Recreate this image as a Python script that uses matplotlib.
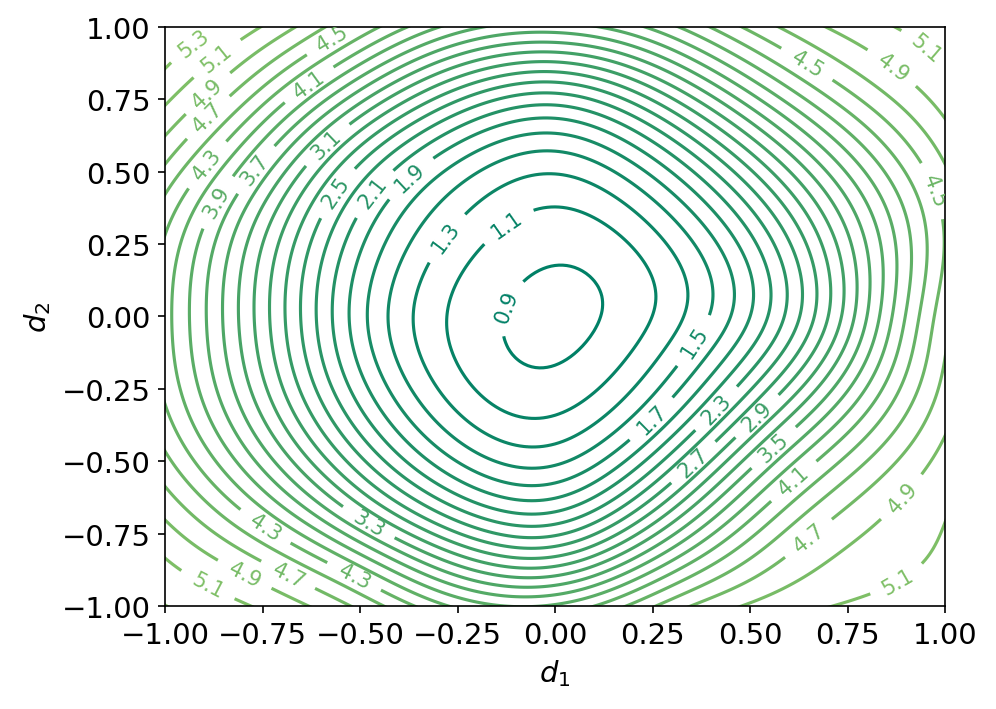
'''
Contour map of the loss around the minimum, in the (d1, d2) plane.
'''
import numpy as np
import matplotlib
matplotlib.use('Agg')
import matplotlib.pyplot as plt
from matplotlib.colors import Normalize

# contour levels shown on the chart
levels = [0.9, 1.1, 1.3, 1.5, 1.7, 1.9, 2.1, 2.3, 2.5, 2.7, 2.9, 3.1,
          3.3, 3.5, 3.7, 3.9, 4.1, 4.3, 4.5, 4.7, 4.9, 5.1, 5.3]

# estimated value at the minimum, near the origin
centre_value = 0.82

# where the contours cross d2 = 0, right and left of the minimum
row_right_levels = [0.9, 1.1, 1.3, 1.5, 1.7, 1.9, 2.1, 2.3, 2.5, 2.7,
                    2.9, 3.1, 3.3, 3.5, 3.7, 3.9, 4.1, 4.3, 4.5]
row_right_d1 = [0.146, 0.274, 0.351, 0.410, 0.462, 0.513, 0.556, 0.597, 0.636,
                0.674, 0.710, 0.744, 0.774, 0.803, 0.833, 0.864, 0.892, 0.923, 0.949]
row_left_levels = [0.9, 1.1, 1.3, 1.5, 1.7, 1.9, 2.1, 2.3, 2.5, 2.7,
                   2.9, 3.1, 3.3, 3.5, 3.7, 3.9, 4.1]
row_left_d1 = [-0.154, -0.295, -0.380, -0.449, -0.495, -0.535, -0.575, -0.613, -0.654,
               -0.692, -0.733, -0.774, -0.812, -0.852, -0.893, -0.934, -0.979]

# where the contours cross d1 = 0, above and below the minimum
col_up_levels = [0.9, 1.1, 1.3, 1.5, 1.7, 1.9, 2.1, 2.3, 2.5, 2.7, 2.9, 3.1, 3.3, 3.5]
col_up_d2 = [0.216, 0.412, 0.521, 0.596, 0.651, 0.703, 0.749, 0.786, 0.823,
             0.857, 0.889, 0.918, 0.947, 0.976]
col_down_levels = [0.9, 1.1, 1.3, 1.5, 1.7, 1.9, 2.1, 2.3, 2.5, 2.7,
                   2.9, 3.1, 3.3, 3.5, 3.7, 3.9]
col_down_d2 = [-0.210, -0.371, -0.469, -0.538, -0.596, -0.648, -0.694, -0.734,
               -0.774, -0.809, -0.843, -0.878, -0.907, -0.935, -0.964, -0.993]

# the 0.9 ring: top, bottom, left and right extremes
ring_d1 = [0.038, -0.038, -0.156, 0.148]
ring_d2 = [0.212, -0.225, -0.03, 0.05]

# where contours meet the frame
edge_levels = [5.3, 5.1, 4.9, 4.5, 4.7, 4.9, 5.1,
               5.1, 4.9, 4.7, 4.7, 4.9, 5.1,
               5.1, 4.9, 4.7, 4.9, 5.1,
               5.1, 4.9]
edge_d1 = [-0.864, -0.749, -0.646, 0.46, 0.564, 0.685, 0.905,
           1, 1, 1, 1, 1, 1,
           -0.774, -0.636, 0.30, 0.48, 0.751,
           -1, -1]
edge_d2 = [1, 1, 1, 1, 1, 1, 1,
           0.87, 0.68, 0.46, -0.09, -0.41, -0.80,
           -1, -1, -1, -1, -1,
           -0.83, -0.69]

# corner values (estimated)
corner_d1 = [-1, 1, -1, 1]
corner_d2 = [1, 1, -1, -1]
corner_values = [5.45, 5.2, 5.25, 5.2]

# points read at the inline labels
label_levels = [5.3, 5.1, 4.9, 4.7, 4.5, 4.1, 4.3, 3.9, 3.7, 3.1, 2.5, 2.1, 1.9, 1.3,
                1.1, 0.9, 4.5, 4.9, 5.1, 4.5, 1.5, 1.7, 2.3, 2.9, 2.7, 3.5, 4.1,
                4.7, 4.9, 5.1, 4.3, 3.3, 4.9, 4.7, 4.5, 5.1]
label_d1 = [-0.927, -0.859, -0.885, -0.885, -0.568, -0.632, -0.889, -0.872, -0.769,
            -0.590, -0.568, -0.474, -0.380, -0.286, -0.124, -0.141, 0.641, 0.855,
            0.949, 0.992, 0.355, 0.256, 0.419, 0.517, 0.355, 0.556, 0.607, 0.637,
            0.880, 0.880, -0.744, -0.483, -0.791, -0.679, -0.521, -0.885]
label_d2 = [0.947, 0.878, 0.763, 0.682, 0.953, 0.803, 0.521, 0.400, 0.509, 0.602,
            0.435, 0.435, 0.492, 0.279, 0.320, 0.043, 0.861, 0.843, 0.924, 0.446,
            -0.083, -0.366, -0.325, -0.343, -0.504, -0.446, -0.561, -0.745, -0.613,
            -0.918, -0.728, -0.723, -0.878, -0.878, -0.913, -0.913]

# collect every traced point
groups = [
    (row_right_d1, np.full(len(row_right_d1), -0.01), row_right_levels),
    (row_left_d1, np.full(len(row_left_d1), -0.01), row_left_levels),
    (np.zeros(len(col_up_d2)), col_up_d2, col_up_levels),
    (np.zeros(len(col_down_d2)), col_down_d2, col_down_levels),
    (ring_d1, ring_d2, np.full(len(ring_d1), 0.9)),
    ([0.0], [0.0], [centre_value]),
    (edge_d1, edge_d2, edge_levels),
    (corner_d1, corner_d2, corner_values),
    (label_d1, label_d2, label_levels),
]
pt_d1 = np.concatenate([np.asarray(g[0], float) for g in groups])
pt_d2 = np.concatenate([np.asarray(g[1], float) for g in groups])
pt_val = np.concatenate([np.asarray(g[2], float) for g in groups])


def tps_kernel(r):
    '''
    Thin plate spline radial function r^2 log r.
    '''
    with np.errstate(divide='ignore', invalid='ignore'):
        k = r ** 2 * np.log(r)
    return np.nan_to_num(k)


def fit_tps(x, y, v, smooth):
    n = len(x)
    r = np.hypot(x[:, None] - x[None, :], y[:, None] - y[None, :])
    K = tps_kernel(r) + smooth * np.eye(n)
    P = np.column_stack([np.ones(n), x, y])
    M = np.zeros((n + 3, n + 3))
    M[:n, :n] = K
    M[:n, n:] = P
    M[n:, :n] = P.T
    rhs = np.concatenate([v, np.zeros(3)])
    sol = np.linalg.solve(M, rhs)
    return sol[:n], sol[n:]


def eval_tps(X, Y, x, y, w, a):
    r = np.hypot(X[..., None] - x, Y[..., None] - y)
    return tps_kernel(r) @ w + a[0] + a[1] * X + a[2] * Y


def gaussian_blur(Z, sigma_cells):
    '''
    Separable gaussian smoothing of a grid (edges padded by their values).
    '''
    half = int(3 * sigma_cells)
    t = np.arange(-half, half + 1)
    k = np.exp(-0.5 * (t / sigma_cells) ** 2)
    k /= k.sum()
    Zp = np.pad(Z, half, mode='edge')
    Zp = np.apply_along_axis(lambda v: np.convolve(v, k, mode='same'), 0, Zp)
    Zp = np.apply_along_axis(lambda v: np.convolve(v, k, mode='same'), 1, Zp)
    return Zp[half:-half, half:-half]


w, a = fit_tps(pt_d1, pt_d2, pt_val, smooth=0.015)

# evaluate beyond the frame so the smoothing has room at the edges
d1 = np.linspace(-1.4, 1.4, 281)
d2 = np.linspace(-1.4, 1.4, 281)
D1, D2 = np.meshgrid(d1, d2)
Z = gaussian_blur(eval_tps(D1, D2, pt_d1, pt_d2, w, a), sigma_cells=7)

fig = plt.figure(figsize=(6.64, 4.7333), dpi=150)
ax = fig.add_axes([0.1657, 0.1451, 0.7831, 0.8155])
cs = ax.contour(D1, D2, Z, levels=levels, cmap='summer',
                norm=Normalize(vmin=0.9, vmax=9.4), linewidths=1.5)
ax.clabel(cs, inline=True, fontsize=10, fmt='%.1f',
          manual=list(zip(label_d1, label_d2)))
ax.set_xlim(-1, 1)
ax.set_ylim(-1, 1)
ax.set_xlabel('$d_1$', fontsize=14)
ax.set_ylabel('$d_2$', fontsize=14)
ax.tick_params(labelsize=14)

fig.savefig('out.png', dpi=150)
